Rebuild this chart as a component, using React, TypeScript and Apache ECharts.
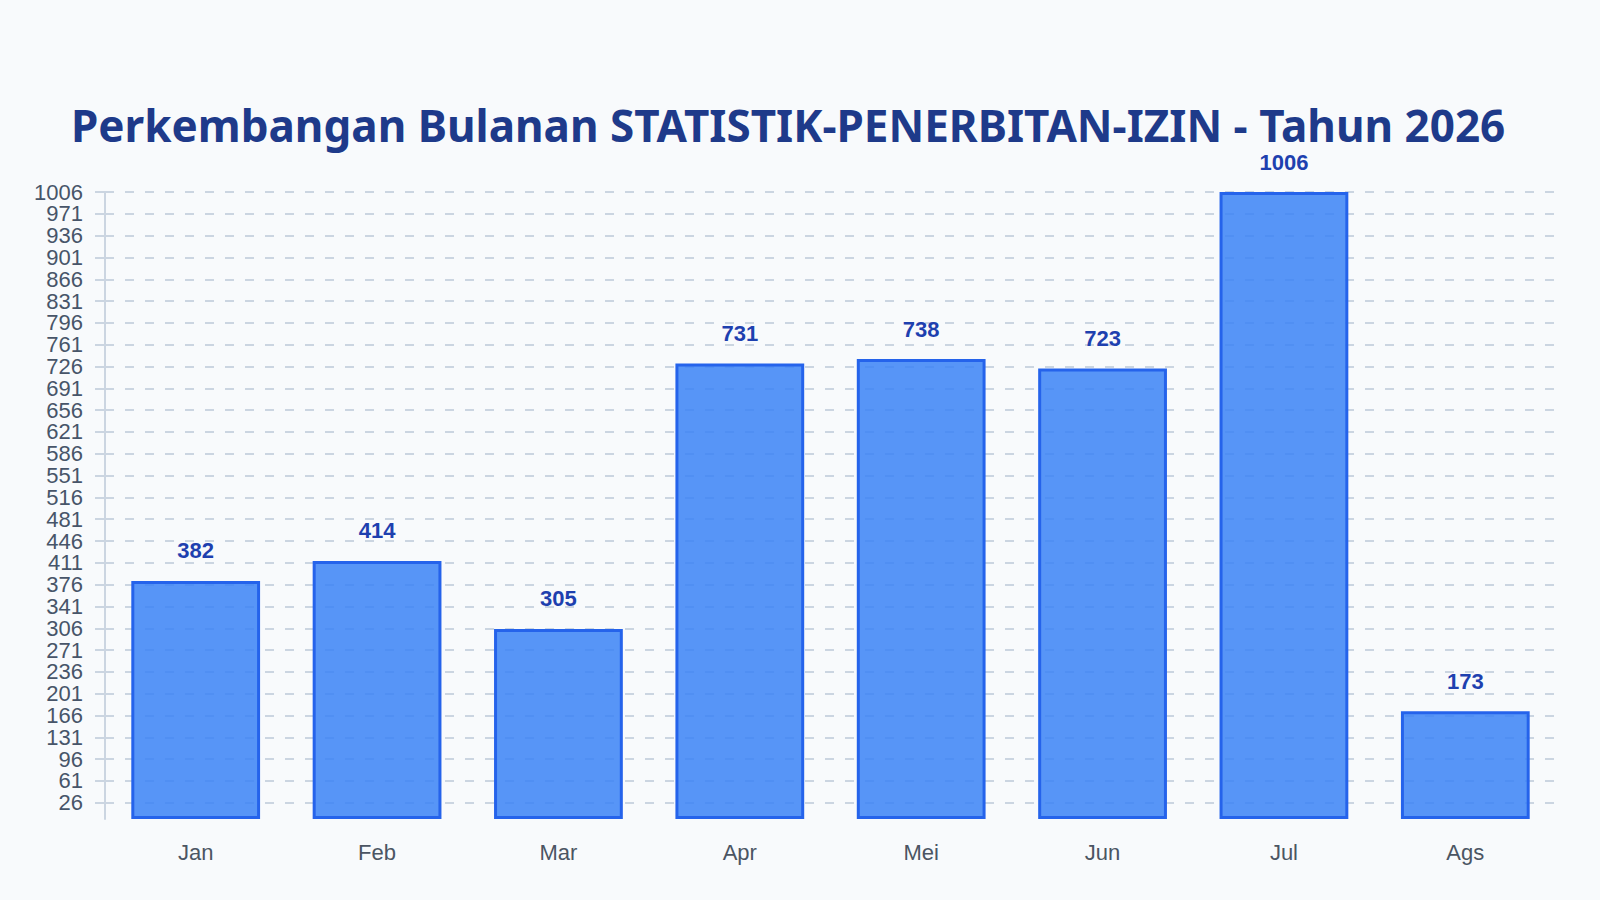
import React, { useEffect, useRef } from 'react';
import * as echarts from 'echarts';

const months = ['Jan', 'Feb', 'Mar', 'Apr', 'Mei', 'Jun', 'Jul', 'Ags'];
const permits = [382, 414, 305, 731, 738, 723, 1006, 173];
const yTicks = [
  26, 61, 96, 131, 166, 201, 236, 271, 306, 341, 376, 411, 446, 481, 516,
  551, 586, 621, 656, 691, 726, 761, 796, 831, 866, 901, 936, 971, 1006
];

const App = () => {
  const chartRef = useRef<HTMLDivElement>(null);

  useEffect(() => {
    if (!chartRef.current) return;
    const chart = echarts.init(chartRef.current, null, { renderer: 'svg' });

    const option = {
      animation: false,
      backgroundColor: '#f8fafc',
      title: {
        text: 'Perkembangan Bulanan STATISTIK-PENERBITAN-IZIN - Tahun 2026',
        left: 66,
        top: 98,
        textStyle: {
          fontFamily: "'Noto Sans', sans-serif",
          fontSize: 44,
          fontWeight: 'bold',
          color: '#1e3a8a'
        }
      },
      grid: {
        left: 105,
        right: 44,
        top: 192,
        bottom: 81,
        containLabel: false
      },
      xAxis: {
        type: 'category',
        data: months,
        axisLine: { show: false },
        axisTick: { show: false },
        axisLabel: {
          margin: 22,
          fontFamily: "'Liberation Sans', Arial, sans-serif",
          fontSize: 22,
          color: '#4b5563'
        }
      },
      yAxis: {
        type: 'value',
        min: 0,
        max: 1006,
        axisLine: { show: true, lineStyle: { color: '#cbd5e1', width: 2 } },
        axisTick: {
          show: true,
          length: 20,
          customValues: yTicks,
          lineStyle: { color: '#cbd5e1', width: 2, type: [10, 10] }
        },
        axisLabel: {
          customValues: yTicks,
          showMinLabel: true,
          showMaxLabel: true,
          hideOverlap: false,
          formatter: (v: number) => String(v),
          margin: 22,
          fontFamily: "'Liberation Sans', Arial, sans-serif",
          fontSize: 22,
          color: '#475569'
        },
        splitLine: {
          show: true,
          lineStyle: { color: '#cbd5e1', width: 2, type: [9, 11] }
        }
      },
      series: [
        {
          type: 'bar',
          data: permits,
          barWidth: '71%',
          itemStyle: {
            color: 'rgba(59, 130, 246, 0.85)',
            borderColor: '#2563eb',
            borderWidth: 3
          },
          label: {
            show: true,
            position: 'top',
            distance: 19,
            fontFamily: "'Liberation Sans', Arial, sans-serif",
            fontSize: 22,
            fontWeight: 'bold',
            color: '#1e40af'
          }
        }
      ]
    };

    chart.setOption(option);
    const handleResize = () => chart.resize();
    window.addEventListener('resize', handleResize);
    return () => {
      window.removeEventListener('resize', handleResize);
      chart.dispose();
    };
  }, []);

  return (
    <div
      ref={chartRef}
      style={{ position: 'absolute', left: 0, top: 0, width: '100vw', height: '100vh' }}
    />
  );
};

export default App;
